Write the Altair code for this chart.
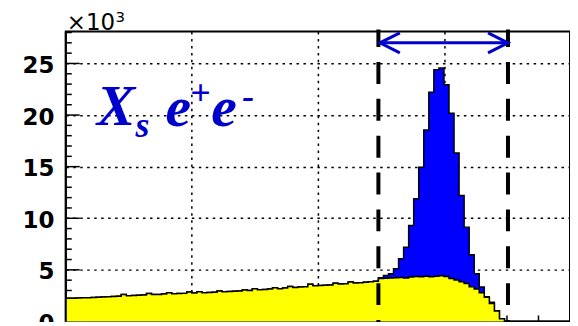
import altair as alt
import pandas as pd

# ---------------- data ----------------
x_min, x_max = 5.20, 5.30
bin_width = 0.001          # 100 bins

background = [
    2240, 2250, 2270, 2290, 2300, 2330, 2350, 2370, 2400, 2420,
    2450, 2600, 2500, 2520, 2540, 2570, 2700, 2600, 2620, 2650,
    2780, 2680, 2700, 2720, 2850, 2760, 2880, 2790, 2800, 2830,
    2950, 2880, 2900, 2920, 2940, 3050, 3000, 3180, 3080, 3100,
    3150, 3260, 3180, 3230, 3380, 3300, 3330, 3360, 3600, 3450,
    3480, 3510, 3540, 3700, 3620, 3650, 3820, 3720, 3760, 3800,
    3850, 3900, 4150, 4180, 4200, 4230, 4260, 4220, 4300, 4350,
    4330, 4380, 4320, 4380, 4420, 4360, 4150, 4020, 3850, 3680,
    3350, 3150, 2780, 2350, 1750, 1000, 250, 0, 0, 0,
    0, 0, 0, 0, 0, 0, 0, 0, 0, 0,
]

peak_total = [  # bins 62 .. 86 (signal + background)
    4240, 4460, 4620, 5110, 6070, 7200, 9290, 11880, 14940, 18550,
    22200, 24390, 24550, 22930, 20170, 16330, 12200, 9140, 6460, 4620,
    3340, 2400, 1850, 1030, 270,
]
total = background[:62] + peak_total + [0] * 13

cuts = [5.262, 5.2877]
arrow_x = [5.2623, 5.2877]
arrow_y = 27000

y_major = [0, 5000, 10000, 15000, 20000, 25000]
y_minor = [v for v in range(0, 28001, 1000) if v % 5000]
x_grid = [5.225, 5.25, 5.275]
x_major = [5.200, 5.225, 5.250, 5.275, 5.300]
x_minor = [5.20625, 5.2125, 5.21875, 5.23125, 5.2375, 5.24375,
           5.25625, 5.2625, 5.26875, 5.28125, 5.2875, 5.29375]

W, H = 506, 291

# ---------------- tables ----------------
edges = [round(x_min + bin_width * i, 4) for i in range(101)]


def hist_frame(vals):
    return pd.DataFrame({"x": edges, "y": vals + [vals[-1]]})


xs = alt.Scale(domain=[x_min, x_max], nice=False, zero=False)
ys = alt.Scale(domain=[0, 28100], nice=False)

grid_dash = [2.5, 4.5]
x_axis = alt.Axis(
    values=x_grid, labels=False, ticks=False, domain=False, title=None,
    grid=True, gridDash=grid_dash, gridColor="black", gridWidth=1.5, gridOpacity=1)
y_axis = alt.Axis(
    values=y_major, labelExpr="datum.value / 1000", title=None,
    ticks=False, domain=False, labelPadding=12, labelOffset=2,
    labelFont="DejaVu Sans", labelFontWeight="bold", labelFontSize=23,
    labelColor="black",
    grid=True, gridDash=grid_dash, gridColor="black", gridWidth=1.5, gridOpacity=1)


def X(field):
    return alt.X(field, scale=xs, axis=x_axis)


def Y(field):
    return alt.Y(field, scale=ys, axis=y_axis)


# ticks (drawn beneath the histograms)
y_minor_ticks = alt.Chart(pd.DataFrame({"y": y_minor})).mark_rule(
    color="black", strokeWidth=1.5
).encode(y=Y("y:Q"), x=alt.value(0), x2=alt.value(6))

y_major_ticks = alt.Chart(pd.DataFrame({"y": y_major})).mark_rule(
    color="black", strokeWidth=1.5
).encode(y=Y("y:Q"), x=alt.value(0), x2=alt.value(14))

x_minor_ticks = alt.Chart(pd.DataFrame({"x": x_minor})).mark_rule(
    color="black", strokeWidth=1.5
).encode(x=X("x:Q"), y=alt.value(H), y2=alt.value(H - 6))

x_major_ticks = alt.Chart(pd.DataFrame({"x": x_major})).mark_rule(
    color="black", strokeWidth=1.5
).encode(x=X("x:Q"), y=alt.value(H), y2=alt.value(H - 12))

# histograms
total_area = alt.Chart(hist_frame(total)).mark_area(
    interpolate="step-after", color="#0000ff", opacity=1,
    line={"color": "black", "strokeWidth": 1.5},
).encode(x=X("x:Q"), y=Y("y:Q"))

bkg_area = alt.Chart(hist_frame(background)).mark_area(
    interpolate="step-after", color="#ffff00", opacity=1,
    line={"color": "black", "strokeWidth": 1.5},
).encode(x=X("x:Q"), y=Y("y:Q"))

# left frame line on top of the fills
left_line = alt.Chart(pd.DataFrame({"a": [0]})).mark_rule(
    color="black", strokeWidth=2
).encode(x=alt.value(0), y=alt.value(0), y2=alt.value(H))

# cut lines
cut_lines = alt.Chart(pd.DataFrame({"x": cuts})).mark_rule(
    color="black", strokeWidth=4, strokeDash=[22, 15], strokeDashOffset=4.4
).encode(x=X("x:Q"), y=alt.value(-2), y2=alt.value(H + 10))

# arrow
shaft = alt.Chart(pd.DataFrame({"x": [arrow_x[0]], "x2": [arrow_x[1]], "y": [arrow_y]})).mark_rule(
    color="#0000cc", strokeWidth=3
).encode(x=X("x:Q"), x2="x2:Q", y=Y("y:Q"))

head_left = alt.Chart(pd.DataFrame({"x": [arrow_x[0]], "y": [arrow_y]})).mark_point(
    shape="M2,-1L0,0L2,1", size=400, filled=False, color="#0000cc",
    strokeWidth=3, opacity=1
).encode(x=X("x:Q"), y=Y("y:Q"))

head_right = alt.Chart(pd.DataFrame({"x": [arrow_x[1]], "y": [arrow_y]})).mark_point(
    shape="M-2,-1L0,0L-2,1", size=400, filled=False, color="#0000cc",
    strokeWidth=3, opacity=1
).encode(x=X("x:Q"), y=Y("y:Q"))


# text annotations
def label(txt, px, py, size, font, color, weight="normal", style="normal", align="left"):
    return alt.Chart(pd.DataFrame({"a": [0]})).mark_text(
        text=txt, font=font, fontSize=size, fontWeight=weight, fontStyle=style,
        color=color, align=align, baseline="alphabetic",
    ).encode(x=alt.value(px), y=alt.value(py))


serif = "Liberation Serif"
blue_txt = "#0000cc"
texts = [
    label("×10", 1, -1, 23, "DejaVu Sans", "black"),
    label("3", 50, -10, 15, "DejaVu Sans", "black"),
    label("X", 31, 94, 58, serif, blue_txt, "bold", "italic"),
    label("s", 70, 106, 36, serif, blue_txt, "bold", "italic"),
    label("e", 100, 95, 58, serif, blue_txt, "bold", "italic"),
    label("+", 135, 74, 36, serif, blue_txt, "bold", "italic", "center"),
    label("e", 146, 95, 58, serif, blue_txt, "bold", "italic"),
    label("-", 177, 77, 36, serif, blue_txt, "bold", "italic"),
]

chart = alt.layer(
    y_minor_ticks, y_major_ticks, x_minor_ticks, x_major_ticks,
    total_area, bkg_area, left_line, cut_lines, shaft, head_left, head_right, *texts
).properties(
    width=W, height=H,
    autosize=alt.AutoSizeParams(type="none"),
    padding={"left": 58, "top": 23, "right": 0, "bottom": 0},
).configure_view(stroke="black", strokeWidth=2)

chart.save("out.html", embed_options={"renderer": "svg", "actions": False})
